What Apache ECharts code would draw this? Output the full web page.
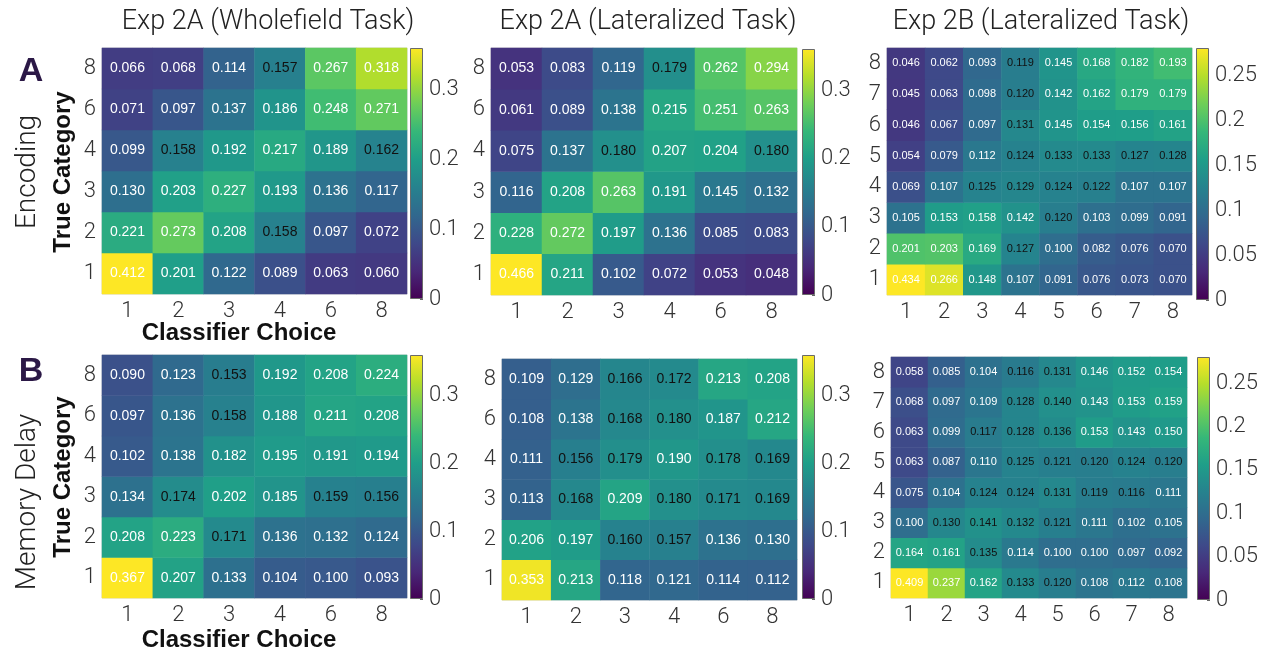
<!DOCTYPE html>
<html>
<head>
<meta charset="utf-8">
<script src="https://cdn.jsdelivr.net/npm/echarts@6/dist/echarts.min.js"></script>
<style>
  html, body { margin: 0; padding: 0; background: #fff; }
  #chart { width: 1263px; height: 656px; }
</style>
</head>
<body>
<div id="chart"></div>
<script>
// Category labels (classifier choice on x, true category on y)
const cats2A = ['1', '2', '3', '4', '6', '8'];
const cats2B = ['1', '2', '3', '4', '5', '6', '7', '8'];

// Colour-scale ranges and colourbar tick steps
const range2A = 0.36, step2A = 0.1;
const range2B = 0.28, step2B = 0.05;

// Classification proportions; each row is one true category, from 1 (bottom) upward
const encWhole2A = [
  [0.412, 0.201, 0.122, 0.089, 0.063, 0.060],
  [0.221, 0.273, 0.208, 0.158, 0.097, 0.072],
  [0.130, 0.203, 0.227, 0.193, 0.136, 0.117],
  [0.099, 0.158, 0.192, 0.217, 0.189, 0.162],
  [0.071, 0.097, 0.137, 0.186, 0.248, 0.271],
  [0.066, 0.068, 0.114, 0.157, 0.267, 0.318]
];
const encLat2A = [
  [0.466, 0.211, 0.102, 0.072, 0.053, 0.048],
  [0.228, 0.272, 0.197, 0.136, 0.085, 0.083],
  [0.116, 0.208, 0.263, 0.191, 0.145, 0.132],
  [0.075, 0.137, 0.180, 0.207, 0.204, 0.180],
  [0.061, 0.089, 0.138, 0.215, 0.251, 0.263],
  [0.053, 0.083, 0.119, 0.179, 0.262, 0.294]
];
const encLat2B = [
  [0.434, 0.266, 0.148, 0.107, 0.091, 0.076, 0.073, 0.070],
  [0.201, 0.203, 0.169, 0.127, 0.100, 0.082, 0.076, 0.070],
  [0.105, 0.153, 0.158, 0.142, 0.120, 0.103, 0.099, 0.091],
  [0.069, 0.107, 0.125, 0.129, 0.124, 0.122, 0.107, 0.107],
  [0.054, 0.079, 0.112, 0.124, 0.133, 0.133, 0.127, 0.128],
  [0.046, 0.067, 0.097, 0.131, 0.145, 0.154, 0.156, 0.161],
  [0.045, 0.063, 0.098, 0.120, 0.142, 0.162, 0.179, 0.179],
  [0.046, 0.062, 0.093, 0.119, 0.145, 0.168, 0.182, 0.193]
];
const memWhole2A = [
  [0.367, 0.207, 0.133, 0.104, 0.100, 0.093],
  [0.208, 0.223, 0.171, 0.136, 0.132, 0.124],
  [0.134, 0.174, 0.202, 0.185, 0.159, 0.156],
  [0.102, 0.138, 0.182, 0.195, 0.191, 0.194],
  [0.097, 0.136, 0.158, 0.188, 0.211, 0.208],
  [0.090, 0.123, 0.153, 0.192, 0.208, 0.224]
];
const memLat2A = [
  [0.353, 0.213, 0.118, 0.121, 0.114, 0.112],
  [0.206, 0.197, 0.160, 0.157, 0.136, 0.130],
  [0.113, 0.168, 0.209, 0.180, 0.171, 0.169],
  [0.111, 0.156, 0.179, 0.190, 0.178, 0.169],
  [0.108, 0.138, 0.168, 0.180, 0.187, 0.212],
  [0.109, 0.129, 0.166, 0.172, 0.213, 0.208]
];
const memLat2B = [
  [0.409, 0.237, 0.162, 0.133, 0.120, 0.108, 0.112, 0.108],
  [0.164, 0.161, 0.135, 0.114, 0.100, 0.100, 0.097, 0.092],
  [0.100, 0.130, 0.141, 0.132, 0.121, 0.111, 0.102, 0.105],
  [0.075, 0.104, 0.124, 0.124, 0.131, 0.119, 0.116, 0.111],
  [0.063, 0.087, 0.110, 0.125, 0.121, 0.120, 0.124, 0.120],
  [0.063, 0.099, 0.117, 0.128, 0.136, 0.153, 0.143, 0.150],
  [0.068, 0.097, 0.109, 0.128, 0.140, 0.143, 0.153, 0.159],
  [0.058, 0.085, 0.104, 0.116, 0.131, 0.146, 0.152, 0.154]
];

const viridis = ['#440154', '#482878', '#3e4989', '#31688e', '#26828e',
                 '#1f9e89', '#35b779', '#6ece58', '#b5de2b', '#fde725'];

const LIGHT = 'Roboto, "Liberation Sans", sans-serif';
const BOLD = '"Liberation Sans", Arial, sans-serif';
const CELL = '"Liberation Sans", Arial, sans-serif';

// Panel layout: heatmap box, colourbar box, cell label size
const panels = [
  { m: encWhole2A, cats: cats2A, vmax: range2A, step: step2A, g: [102, 48, 305, 246], cb: [410, 48, 13, 251], fs: 14 },
  { m: encLat2A,   cats: cats2A, vmax: range2A, step: step2A, g: [491, 48, 306, 247], cb: [802, 49, 13, 246], fs: 14 },
  { m: encLat2B,   cats: cats2B, vmax: range2B, step: step2B, g: [887, 48, 305, 247], cb: [1196, 48, 13, 252], fs: 11 },
  { m: memWhole2A, cats: cats2A, vmax: range2A, step: step2A, g: [102, 355, 305, 243], cb: [410, 355, 13, 244], fs: 14 },
  { m: memLat2A,   cats: cats2A, vmax: range2A, step: step2A, g: [502, 359, 295, 241], cb: [802, 355, 13, 244], fs: 14 },
  { m: memLat2B,   cats: cats2B, vmax: range2B, step: step2B, g: [891, 357, 296, 241], cb: [1197, 357, 13, 243], fs: 11 }
];

// Cells in the middle of the scale get dark text, the rest white
function heatData(matrix, vmax) {
  const out = [];
  matrix.forEach((row, yi) => row.forEach((v, xi) => {
    const t = v / vmax;
    const dark = t >= 0.41 && t <= 0.505;
    out.push({ value: [xi, yi, v], label: { color: dark ? '#111' : '#fff' } });
  }));
  return out;
}

const grid = [], xAxis = [], yAxis = [], series = [], visualMap = [];
const tickLabel = { fontSize: 22, color: '#333', fontFamily: LIGHT, fontWeight: 300 };

panels.forEach((p, i) => {
  grid.push({ left: p.g[0], top: p.g[1], width: p.g[2], height: p.g[3],
              show: true, borderColor: '#d4d4d4', borderWidth: 1, backgroundColor: 'transparent' });
  xAxis.push({ type: 'category', gridIndex: i, data: p.cats,
               axisLine: { show: false }, axisTick: { show: false }, splitLine: { show: false },
               axisLabel: Object.assign({ margin: 6 }, tickLabel) });
  yAxis.push({ type: 'category', gridIndex: i, data: p.cats,
               axisLine: { show: false }, axisTick: { show: false }, splitLine: { show: false },
               axisLabel: Object.assign({ margin: 6 }, tickLabel) });
  series.push({
    type: 'heatmap', xAxisIndex: i, yAxisIndex: i,
    data: heatData(p.m, p.vmax),
    label: { show: true, fontSize: p.fs, fontFamily: CELL,
             formatter: (d) => d.value[2].toFixed(3) },
    itemStyle: { borderWidth: 0 },
    emphasis: { disabled: true }
  });
  visualMap.push({ type: 'continuous', show: false, seriesIndex: i, dimension: 2,
                   min: 0, max: p.vmax, inRange: { color: viridis } });
});

// Colourbars: one full-height bar per panel on its own value axis
panels.forEach((p, i) => {
  const gi = panels.length + i;
  grid.push({ left: p.cb[0], top: p.cb[1], width: p.cb[2], height: p.cb[3] });
  xAxis.push({ type: 'category', gridIndex: gi, data: [''], show: false });
  yAxis.push({ type: 'value', gridIndex: gi, position: 'right', min: 0, max: p.vmax, interval: p.step,
               splitLine: { show: false }, axisLine: { show: false },
               axisTick: { show: true, inside: true, length: 3, lineStyle: { color: '#666' } },
               axisLabel: Object.assign({ margin: 6, showMaxLabel: false,
                 formatter: (v) => String(+v.toFixed(2)) }, tickLabel) });
  series.push({
    type: 'bar', xAxisIndex: gi, yAxisIndex: gi, data: [p.vmax], barWidth: '100%', silent: true,
    itemStyle: {
      color: new echarts.graphic.LinearGradient(0, 1, 0, 0,
        viridis.map((c, k) => ({ offset: k / (viridis.length - 1), color: c }))),
      borderColor: '#6a6a6a', borderWidth: 1
    }
  });
});

function txt(text, x, y, size, weight, family, fill, rot) {
  return { type: 'text', x: x, y: y, rotation: rot || 0, silent: true,
           style: { text: text, x: 0, y: 0, fontSize: size, fontWeight: weight, fontFamily: family,
                    fill: fill || '#222', align: 'center', verticalAlign: 'middle' } };
}
const V = Math.PI / 2;
const graphic = [
  txt('Exp 2A (Wholefield Task)', 268, 22, 27, 300, LIGHT),
  txt('Exp 2A (Lateralized Task)', 648, 22, 27, 300, LIGHT),
  txt('Exp 2B (Lateralized Task)', 1041, 22, 27, 300, LIGHT),
  txt('A', 31, 72, 34, 'bold', BOLD, '#2b1846'),
  txt('B', 31, 372, 34, 'bold', BOLD, '#2b1846'),
  txt('Encoding', 28, 172, 28, 300, LIGHT, '#222', V),
  txt('Memory Delay', 28, 502, 28, 300, LIGHT, '#222', V),
  txt('True Category', 63, 172, 24, 'bold', BOLD, '#111', V),
  txt('True Category', 63, 477, 24, 'bold', BOLD, '#111', V),
  txt('Classifier Choice', 239, 333, 24, 'bold', BOLD, '#111'),
  txt('Classifier Choice', 239, 640, 24, 'bold', BOLD, '#111')
];

const chart = echarts.init(document.getElementById('chart'), null, { renderer: 'canvas' });
chart.setOption({
  animation: false,
  backgroundColor: '#fff',
  grid: grid, xAxis: xAxis, yAxis: yAxis, visualMap: visualMap, series: series, graphic: graphic
});
</script>
</body>
</html>
